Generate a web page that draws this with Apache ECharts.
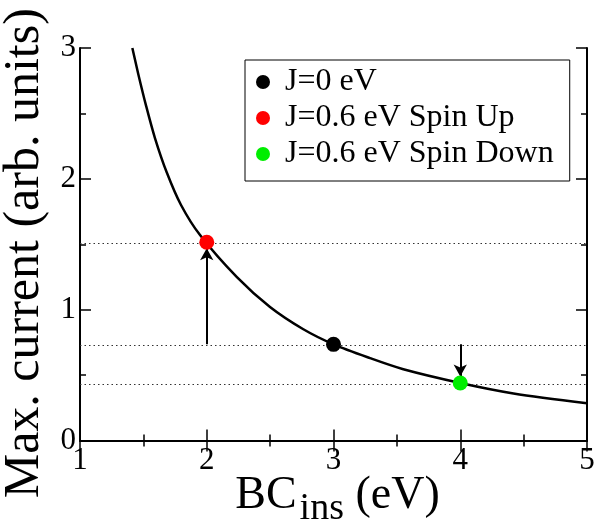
<!DOCTYPE html>
<html>
<head>
<meta charset="utf-8">
<script src="https://cdn.jsdelivr.net/npm/echarts@6/dist/echarts.min.js"></script>
<style>
  html, body { margin: 0; padding: 0; background: #fff; }
  #chart { width: 595px; height: 522px; }
</style>
</head>
<body>
<div id="chart"></div>
<script>
// Max. current versus BC_ins barrier
const curveX = [1.413, 1.46, 1.521, 1.592, 1.684, 1.797, 1.947, 2.236, 2.499, 2.762, 3.0, 3.288, 3.551, 4.0, 4.42, 5.0];
const curveY = [3.0, 2.80, 2.56, 2.31, 2.05, 1.80, 1.57, 1.25, 1.02, 0.85, 0.735, 0.63, 0.545, 0.44, 0.36, 0.285];

const pointNames = ['J=0 eV', 'J=0.6 eV Spin Up', 'J=0.6 eV Spin Down'];
const pointX = [3, 2, 4];
const pointY = [0.735, 1.515, 0.44];
const pointColors = ['#000000', '#ff0000', '#00ee00'];

// dotted guide levels
const guideLevels = [1.515, 0.735, 0.43];

// arrows: [x, from, to]
const arrowX = [2, 4];
const arrowFrom = [0.735, 0.735];
const arrowTo = [1.47, 0.49];

const xTicks = [1, 2, 3, 4, 5];
const yTicks = [0, 1, 2, 3];

const FONT = 'Liberation Serif';

const chart = echarts.init(document.getElementById('chart'), null, { renderer: 'canvas' });

const axisCommon = {
  axisLine: { lineStyle: { color: '#000', width: 2 } },
  axisTick: { inside: true, length: 11, lineStyle: { color: '#000', width: 1.5 } },
  minorTick: { show: true, splitNumber: 2, length: 6, lineStyle: { color: '#000', width: 1.5 } },
  splitLine: { show: false },
  minorSplitLine: { show: false }
};

const scatterSeries = pointNames.map((name, i) => ({
  name: name,
  type: 'scatter',
  symbol: 'circle',
  symbolSize: 15,
  itemStyle: { color: pointColors[i], opacity: 1 },
  data: [[pointX[i], pointY[i]]],
  z: 5
}));

chart.setOption({
  animation: false,
  backgroundColor: '#fff',
  grid: { left: 80, right: 8, top: 48, bottom: 81.5, containLabel: false, outerBoundsMode: 'none' },
  legend: {
    data: pointNames.map(n => ({ name: n, icon: 'circle' })),
    orient: 'vertical',
    left: 245,
    top: 60,
    itemWidth: 14,
    itemHeight: 14,
    itemGap: 4,
    padding: [6, 16, 11, 11],
    backgroundColor: '#fff',
    borderColor: '#000',
    borderWidth: 1,
    textStyle: { fontFamily: FONT, fontSize: 32, color: '#000', lineHeight: 32, padding: [0, 0, 0, 10] }
  },
  xAxis: [
    Object.assign({
      type: 'value', min: xTicks[0], max: xTicks[xTicks.length - 1], interval: 1,
      position: 'bottom',
      axisLabel: { fontFamily: FONT, fontSize: 31, color: '#000', margin: 5 },
      name: '{a|BC}{b|ins}{a| (eV)}',
      nameLocation: 'middle',
      nameGap: 32,
      nameMoveOverlap: false,
      nameTextStyle: {
        padding: [0, 0, 0, 8],
        rich: {
          a: { fontFamily: FONT, fontSize: 46, color: '#000', verticalAlign: 'bottom', lineHeight: 46 },
          b: { fontFamily: FONT, fontSize: 38, color: '#000', verticalAlign: 'bottom', lineHeight: 46, padding: [0, 0, -10, 3] }
        }
      }
    }, axisCommon),
    Object.assign({
      type: 'value', min: xTicks[0], max: xTicks[xTicks.length - 1], interval: 1,
      position: 'top',
      axisLabel: { show: false }
    }, axisCommon)
  ],
  yAxis: [
    Object.assign({
      type: 'value', min: yTicks[0], max: yTicks[yTicks.length - 1], interval: 1,
      position: 'left',
      axisLabel: { fontFamily: FONT, fontSize: 31, color: '#000', margin: 4 },
      name: 'Max. current (arb. units)',
      nameLocation: 'middle',
      nameGap: 27,
      nameTextStyle: { fontFamily: FONT, fontSize: 50, color: '#000', padding: [0, 18, 0, 0] }
    }, axisCommon),
    Object.assign({
      type: 'value', min: yTicks[0], max: yTicks[yTicks.length - 1], interval: 1,
      position: 'right',
      axisLabel: { show: false }
    }, axisCommon)
  ],
  series: [
    {
      name: 'guides',
      type: 'line',
      data: [],
      z: 1,
      markLine: {
        silent: true,
        symbol: 'none',
        label: { show: false },
        lineStyle: { color: '#333', type: [1.5, 3], width: 1 },
        data: guideLevels.map(v => ({ yAxis: v }))
      }
    },
    {
      name: 'curve',
      type: 'line',
      smooth: 0.3,
      showSymbol: false,
      symbol: 'none',
      lineStyle: { color: '#000', width: 2.5 },
      data: curveX.map((x, i) => [x, curveY[i]]),
      z: 3,
      markLine: {
        silent: true,
        label: { show: false },
        symbol: ['none', 'arrow'],
        symbolSize: [10, 12],
        lineStyle: { color: '#000', type: 'solid', width: 2 },
        data: arrowX.map((x, i) => [
          { coord: [x, arrowFrom[i]] },
          { coord: [x, arrowTo[i]] }
        ])
      }
    }
  ].concat(scatterSeries)
});
</script>
</body>
</html>
